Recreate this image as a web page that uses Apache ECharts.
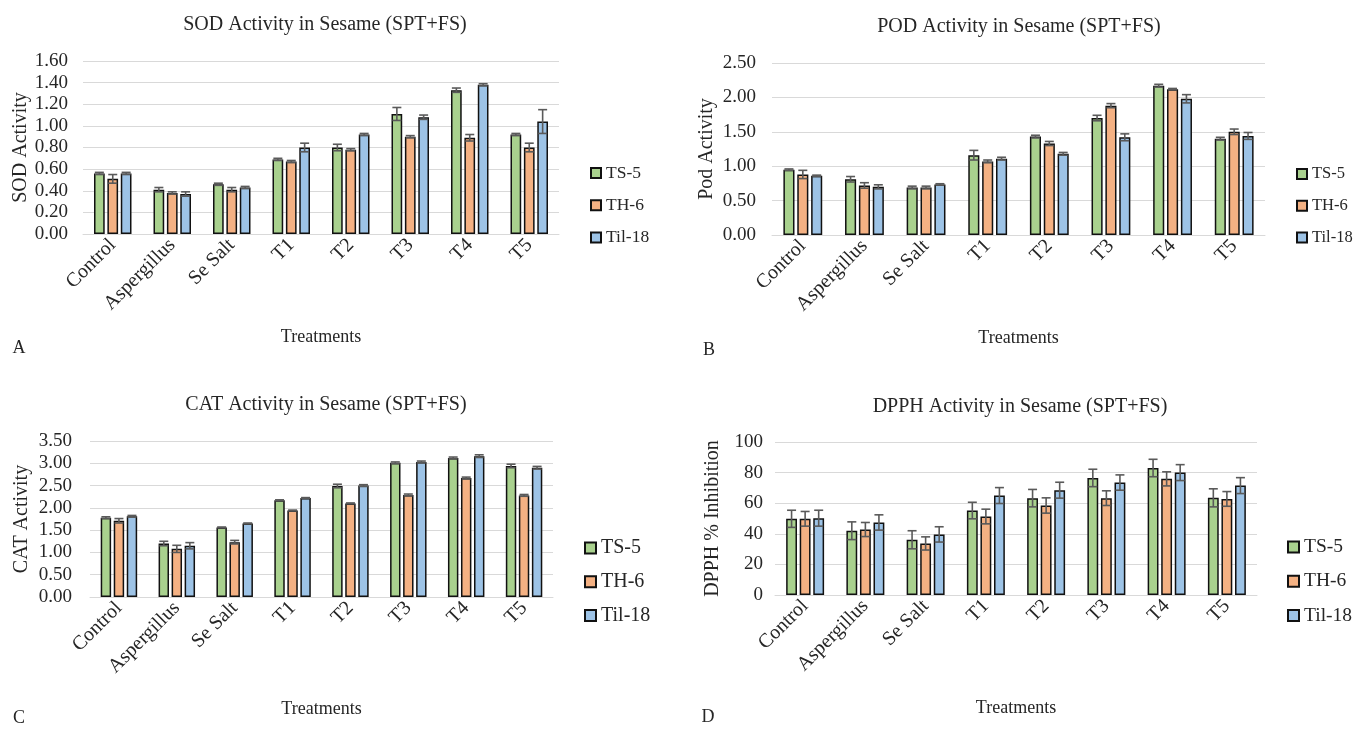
<!DOCTYPE html>
<html>
<head>
<meta charset="utf-8">
<script src="https://cdn.jsdelivr.net/npm/echarts@6/dist/echarts.min.js"></script>
<style>
html,body{margin:0;padding:0;background:#fff;}
#main{width:1355px;height:730px;}
</style>
</head>
<body>
<div id="main"></div>
<script>
// ---------- data ----------
const categories = ['Control', 'Aspergillus', 'Se Salt', 'T1', 'T2', 'T3', 'T4', 'T5'];
const seriesNames = ['TS-5', 'TH-6', 'Til-18'];

const sodTS5   = [0.56, 0.41, 0.46, 0.69, 0.80, 1.11, 1.33, 0.92];
const sodTH6   = [0.51, 0.38, 0.41, 0.67, 0.78, 0.90, 0.89, 0.80];
const sodTil18 = [0.56, 0.37, 0.43, 0.80, 0.92, 1.08, 1.38, 1.04];
const sodTS5Err   = [0.01, 0.02, 0.01, 0.01, 0.03, 0.06, 0.02, 0.01];
const sodTH6Err   = [0.04, 0.01, 0.02, 0.01, 0.01, 0.01, 0.03, 0.04];
const sodTil18Err = [0.01, 0.02, 0.01, 0.04, 0.01, 0.02, 0.01, 0.11];

const podTS5   = [0.95, 0.81, 0.69, 1.16, 1.43, 1.70, 2.17, 1.40];
const podTH6   = [0.88, 0.72, 0.69, 1.07, 1.33, 1.88, 2.12, 1.50];
const podTil18 = [0.86, 0.70, 0.735, 1.11, 1.18, 1.42, 1.98, 1.44];
const podTS5Err   = [0.01, 0.04, 0.02, 0.07, 0.02, 0.04, 0.02, 0.02];
const podTH6Err   = [0.06, 0.04, 0.02, 0.02, 0.03, 0.03, 0.01, 0.04];
const podTil18Err = [0.01, 0.03, 0.01, 0.02, 0.02, 0.05, 0.06, 0.05];

const catTS5   = [1.78, 1.20, 1.56, 2.17, 2.49, 3.01, 3.12, 2.94];
const catTH6   = [1.71, 1.08, 1.23, 1.94, 2.10, 2.29, 2.67, 2.28];
const catTil18 = [1.81, 1.15, 1.65, 2.22, 2.50, 3.03, 3.16, 2.90];
const catTS5Err   = [0.02, 0.05, 0.01, 0.01, 0.04, 0.02, 0.02, 0.04];
const catTH6Err   = [0.05, 0.08, 0.04, 0.01, 0.01, 0.02, 0.02, 0.02];
const catTil18Err = [0.02, 0.07, 0.01, 0.01, 0.02, 0.02, 0.03, 0.03];

const dpphTS5   = [49.8, 42.0, 36.1, 55.2, 63.3, 76.5, 83.0, 63.5];
const dpphTH6   = [49.8, 42.8, 33.7, 51.3, 58.5, 63.3, 75.9, 62.8];
const dpphTil18 = [50.2, 47.4, 39.6, 65.0, 68.5, 73.5, 80.0, 71.5];
const dpphTS5Err   = [5.6, 5.8, 5.9, 5.4, 5.7, 5.7, 5.7, 5.9];
const dpphTH6Err   = [4.8, 4.6, 4.3, 4.8, 5.0, 4.8, 4.6, 4.8];
const dpphTil18Err = [5.2, 5.0, 5.0, 5.2, 5.2, 5.0, 5.2, 5.2];

const panelTitles = ['SOD Activity in Sesame (SPT+FS)', 'POD Activity in Sesame (SPT+FS)',
                     'CAT Activity in Sesame (SPT+FS)', 'DPPH Activity in Sesame (SPT+FS)'];
const yNames = ['SOD Activity', 'Pod Activity', 'CAT Activity', 'DPPH % Inhibition'];
const xName = 'Treatments';
const panelLetters = ['A', 'B', 'C', 'D'];
const yMax = [1.6, 2.5, 3.5, 100];
const yInterval = [0.2, 0.5, 0.5, 20];
const yDecimals = [2, 2, 2, 0];

// ---------- styling / layout ----------
const FONT = "'Liberation Serif', 'Times New Roman', serif";
const TXT = '#262626';
const colors = ['#a9d18e', '#f4b183', '#9dc3e6'];
const BAR_RATIO = 0.18;
const panels = [
  {vals: [sodTS5, sodTH6, sodTil18], errs: [sodTS5Err, sodTH6Err, sodTil18Err],
   grid: {left: 83, top: 61, width: 476, height: 173}, yGap: 50, yLabelMargin: 15, xGap: 94,
   title: [325, 25], letter: [19, 348],
   legend: {left: 590, top: 163, font: 17.5, lh: 20, gap: 12.2, icon: 10}},
  {vals: [podTS5, podTH6, podTil18], errs: [podTS5Err, podTH6Err, podTil18Err],
   grid: {left: 772, top: 63, width: 493, height: 172}, yGap: 55, yLabelMargin: 16, xGap: 94,
   title: [1019, 27], letter: [709, 350],
   legend: {left: 1296, top: 164, font: 16.5, lh: 20, gap: 11.8, icon: 10}},
  {vals: [catTS5, catTH6, catTil18], errs: [catTS5Err, catTH6Err, catTil18Err],
   grid: {left: 90, top: 441, width: 463, height: 156}, yGap: 58, yLabelMargin: 18, xGap: 103,
   title: [326, 405], letter: [19, 718],
   legend: {left: 584, top: 537, font: 20, lh: 22, gap: 11.7, icon: 11}},
  {vals: [dpphTS5, dpphTH6, dpphTil18], errs: [dpphTS5Err, dpphTH6Err, dpphTil18Err],
   grid: {left: 775, top: 442, width: 482, height: 153}, yGap: 52, yLabelMargin: 12, xGap: 104,
   title: [1020, 407], letter: [708, 717],
   legend: {left: 1287, top: 536, font: 19.5, lh: 22, gap: 12.3, icon: 11}}
];

function errRender(params, api) {
  const cat = api.value(0), s = api.value(1), v = api.value(2), e = api.value(3);
  const band = api.size([1, 0])[0];
  const bw = band * BAR_RATIO;
  const x = api.coord([cat, v])[0] + (s - 1) * bw * 1.25;
  const yt = api.coord([cat, v + e])[1];
  const yb = api.coord([cat, v - e])[1];
  const cap = 4.5;
  const st = {stroke: '#5a5a5a', lineWidth: 1.6};
  return {
    type: 'group',
    children: [
      {type: 'line', shape: {x1: x, y1: yt, x2: x, y2: yb}, style: st},
      {type: 'line', shape: {x1: x - cap, y1: yt, x2: x + cap, y2: yt}, style: st},
      {type: 'line', shape: {x1: x - cap, y1: yb, x2: x + cap, y2: yb}, style: st}
    ]
  };
}

const grid = [], xAxis = [], yAxis = [], series = [], legend = [], graphic = [];
panels.forEach((p, i) => {
  grid.push(Object.assign({containLabel: false}, p.grid));
  xAxis.push({
    type: 'category', gridIndex: i, data: categories,
    name: xName, nameLocation: 'middle', nameGap: p.xGap,
    nameTextStyle: {fontFamily: FONT, fontSize: 18, color: TXT},
    axisLine: {show: true, lineStyle: {color: '#d9d9d9', width: 1}},
    axisTick: {show: false},
    axisLabel: {rotate: 45, margin: 8, fontFamily: FONT, fontSize: 20, color: TXT, interval: 0}
  });
  yAxis.push({
    type: 'value', gridIndex: i, min: 0, max: yMax[i], interval: yInterval[i],
    name: yNames[i], nameLocation: 'middle', nameGap: p.yGap,
    nameTextStyle: {fontFamily: FONT, fontSize: 20, color: TXT},
    axisLine: {show: false}, axisTick: {show: false},
    axisLabel: {margin: p.yLabelMargin, fontFamily: FONT, fontSize: 19, color: TXT,
                formatter: (v) => v.toFixed(yDecimals[i])},
    splitLine: {lineStyle: {color: '#d9d9d9', width: 1}}
  });
  const errData = [];
  seriesNames.forEach((nm, s) => {
    series.push({
      type: 'bar', name: nm, xAxisIndex: i, yAxisIndex: i,
      data: p.vals[s], barWidth: (BAR_RATIO * 100) + '%', barGap: '25%',
      itemStyle: {color: colors[s], borderColor: '#111', borderWidth: 1.5},
      emphasis: {disabled: true}, animation: false
    });
    p.vals[s].forEach((v, c) => errData.push([c, s, v, p.errs[s][c]]));
  });
  series.push({
    type: 'custom', name: 'err' + i, xAxisIndex: i, yAxisIndex: i,
    data: errData, encode: {x: 0, y: 2}, renderItem: errRender, z: 5,
    animation: false, silent: true
  });
  legend.push({
    data: seriesNames, orient: 'vertical', left: p.legend.left, top: p.legend.top,
    icon: 'rect', itemWidth: p.legend.icon, itemHeight: p.legend.icon, itemGap: p.legend.gap,
    padding: 0, selectedMode: false,
    textStyle: {fontFamily: FONT, fontSize: p.legend.font, lineHeight: p.legend.lh, color: TXT}
  });
  graphic.push({
    type: 'text', x: p.title[0], y: p.title[1],
    style: {text: panelTitles[i], font: '20px ' + FONT, fill: TXT, textAlign: 'center', textVerticalAlign: 'middle'}
  });
  graphic.push({
    type: 'text', x: p.letter[0], y: p.letter[1],
    style: {text: panelLetters[i], font: '18px ' + FONT, fill: TXT, textAlign: 'center', textVerticalAlign: 'middle'}
  });
});

const chart = echarts.init(document.getElementById('main'), null, {renderer: 'canvas'});
chart.setOption({
  backgroundColor: '#fff', animation: false,
  grid, xAxis, yAxis, series, legend, graphic
});
</script>
</body>
</html>
